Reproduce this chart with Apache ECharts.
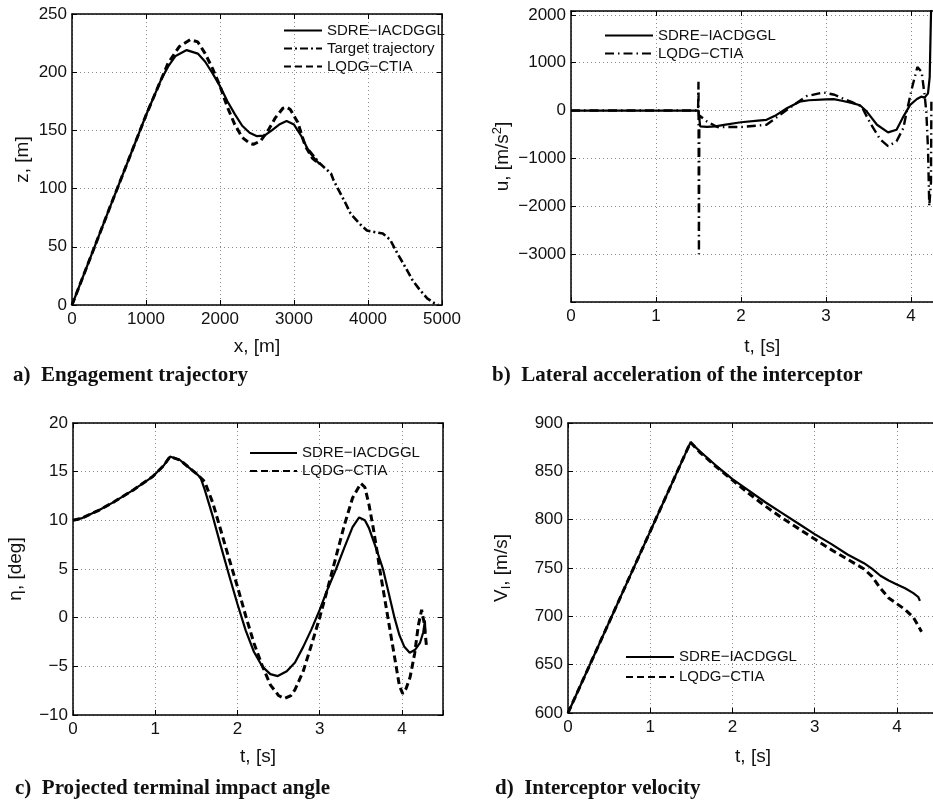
<!DOCTYPE html>
<html><head><meta charset="utf-8">
<script src="https://cdn.jsdelivr.net/npm/echarts@6/dist/echarts.min.js"></script>
<style>html,body{margin:0;padding:0;overflow:hidden;background:#fff}#c{width:960px;height:802px}</style>
</head><body><div id="c"></div>
<script>
// ---- a) Engagement trajectory ----
var aSdreX = [0,500,1000,1200,1300,1400,1550,1700,1800,1900,2000,2100,2200,2300,2400,2500,2600,2700,2800,2900,3000,3100,3200,3300,3350];
var aSdreZ = [0,82,163,193,205,214,219,216,209,199,188,175,164,154,148,145,145.5,150,155,158,155,145,132,124,121];
var aTgtX = [3200,3347,3500,3536,3700,3761,3800,3900,3986,4100,4200,4300,4400,4500,4600,4700,4800,4900,4950];
var aTgtZ = [133,121.7,113,107,87,79,76,69,64,62.5,61.5,56,44,33,21.5,13,5.7,1.4,0];
var aLqdgX = [0,500,1000,1300,1450,1600,1700,1800,1900,2000,2100,2200,2300,2400,2450,2550,2650,2750,2850,2900,2950,3050,3150,3250,3350];
var aLqdgZ = [0,82,163,208,222,228,226,216,203,188,170,155,144,139,138,141,150,161,169,170,168,157,137,126,121];
var aXTicks = [0,1000,2000,3000,4000,5000];
var aYTicks = [0,50,100,150,200,250];

// ---- b) Lateral acceleration ----
var bSdreT = [0,1.5,1.505,1.52,1.6,1.7,1.8,2.0,2.2,2.3,2.4,2.54,2.69,2.8,3.0,3.09,3.2,3.3,3.4,3.48,3.6,3.73,3.83,3.9,3.99,4.07,4.12,4.16,4.2,4.22,4.235,4.245];
var bSdreU = [0,0,-100,-330,-340,-330,-300,-245,-210,-193,-110,48,186,215,234,240,200,160,110,-21,-297,-455,-400,-159,118,242,290,270,360,700,2000,2600];
var bLqdgT = [0,1.495,1.5,1.505,1.51,1.6,1.72,2.0,2.3,2.46,2.62,2.77,2.97,3.1,3.2,3.3,3.42,3.52,3.64,3.73,3.83,3.91,3.95,4.01,4.075,4.125,4.16,4.18,4.2,4.215,4.225,4.235,4.24];
var bLqdgU = [0,0,600,-3000,-100,-228,-345,-345,-297,-90,118,300,379,330,250,180,83,-262,-607,-745,-642,-366,-20,462,911,807,325,-20,-800,-2000,-2000,-1500,250];

// ---- c) Projected terminal impact angle ----
var cSdreT = [0,0.1,0.32,0.5,0.73,0.97,1.1,1.18,1.3,1.4,1.5,1.55,1.6,1.7,1.8,1.9,2.0,2.1,2.2,2.3,2.4,2.49,2.6,2.7,2.8,2.9,3.0,3.1,3.2,3.3,3.4,3.48,3.55,3.6,3.65,3.7,3.77,3.84,3.91,3.97,4.03,4.095,4.16,4.22,4.26,4.28,4.285];
var cSdreE = [10,10.2,11.06,11.9,13.1,14.5,15.6,16.55,16.2,15.5,14.8,14.4,13.2,10.4,7.3,4.3,1.4,-1.3,-3.5,-5.0,-5.8,-6.0,-5.5,-4.6,-3.0,-1.2,0.8,3.0,5.0,7.2,9.3,10.3,10.0,9.2,8.0,6.8,5.0,2.5,0,-1.8,-3.0,-3.6,-3.3,-2.6,-1.5,-0.3,-1.5];
var cLqdgT = [0,0.1,0.32,0.5,0.73,0.97,1.1,1.18,1.3,1.4,1.5,1.55,1.6,1.7,1.8,1.9,2.0,2.1,2.2,2.3,2.4,2.5,2.57,2.65,2.7,2.8,2.9,3.0,3.1,3.2,3.3,3.4,3.5,3.55,3.6,3.65,3.7,3.73,3.83,3.93,3.97,4.01,4.05,4.1,4.155,4.2,4.24,4.27,4.3];
var cLqdgE = [10,10.2,11.06,11.9,13.1,14.5,15.6,16.55,16.2,15.5,14.8,14.4,14.0,11.8,8.9,6.0,3.2,0.2,-2.6,-4.9,-6.9,-8.0,-8.3,-8.0,-7.4,-5.5,-2.8,0,3.1,6.3,9.5,12.3,13.8,13.4,11.6,9.3,6.7,5.0,0,-5.0,-7.0,-7.8,-7.3,-6.1,-3.7,-0.8,0.8,-0.5,-3.0];

// ---- d) Interceptor velocity ----
var dSdreT = [0,1.49,1.6,1.8,2.0,2.2,2.4,2.6,2.8,3.0,3.2,3.4,3.6,3.7,3.8,3.9,4.0,4.1,4.2,4.26,4.28];
var dSdreV = [600,880,871,856,842,830,818,807,796,785,775,764,755,749,742,737,733,729,724,720,716];
var dLqdgT = [0,1.49,1.6,1.8,2.0,2.2,2.4,2.6,2.8,3.0,3.2,3.4,3.6,3.7,3.8,3.9,4.0,4.1,4.2,4.3];
var dLqdgV = [600,880,870,855,841,827,814,802,791,780,769,759,749,741,729,719,713,707,699,684];

var captions = ['a)  Engagement trajectory','b)  Lateral acceleration of the interceptor','c)  Projected terminal impact angle','d)  Interceptor velocity'];
var SDRE = 'SDRE\u2212IACDGGL', LQDG = 'LQDG\u2212CTIA', TGT = 'Target trajectory';

function pairs(xs, ys){ return xs.map(function(x,i){ return [x, ys[i]]; }); }
function fmt(v){ return (v<0?'\u2212':'') + Math.abs(v); }

var FONT = 'Liberation Sans, Arial, sans-serif';
var grids = [
  {left:72, top:14, width:370, height:291},
  {left:571, top:11, width:382.5, height:291},
  {left:73, top:423, width:370, height:292},
  {left:568, top:423, width:370, height:290}
];
var xCfg = [
  {min:0,max:5000,interval:1000,name:'x, [m]',gap:32},
  {min:0,max:4.5,interval:1,name:'t, [s]',gap:35},
  {min:0,max:4.5,interval:1,name:'t, [s]',gap:32},
  {min:0,max:4.5,interval:1,name:'t, [s]',gap:34}
];
var yCfg = [
  {min:0,max:250,interval:50,name:'z, [m]',gap:40, mult:50},
  {min:-4000,max:2080,interval:1000,name:'u, [m/s{sup|2}]',gap:57, mult:1000, hideMin:true},
  {min:-10,max:20,interval:5,name:'\u03b7, [deg]',gap:48, mult:5},
  {min:600,max:900,interval:50,name:'V{sub|I}, [m/s]',gap:55, mult:50}
];

var axisLine = {show:true, onZero:false, lineStyle:{color:'#000', width:1.5}};
var tick = {show:true, inside:true, length:5, lineStyle:{color:'#000', width:1}};
var split = {show:true, lineStyle:{color:'#8a8a8a', width:1, type:[1,3]}};

var xAxes = [], yAxes = [];
grids.forEach(function(g, i){
  var xc = xCfg[i], yc = yCfg[i];
  xAxes.push({type:'value', gridIndex:i, position:'bottom', min:xc.min, max:xc.max, interval:xc.interval,
    name:xc.name, nameLocation:'middle', nameGap:xc.gap,
    nameTextStyle:{fontFamily:FONT, fontSize:19, color:'#111'},
    axisLine:axisLine, axisTick:tick, splitLine:split,
    axisLabel:{fontFamily:FONT, fontSize:17, color:'#111', margin:6,
      formatter:function(v){ return (Math.abs(v/xc.interval - Math.round(v/xc.interval))<1e-9) ? fmt(v) : ''; }}});
  xAxes.push({type:'value', gridIndex:i, position:'top', min:xc.min, max:xc.max, interval:xc.interval,
    axisLine:axisLine, axisTick:tick, splitLine:{show:false}, axisLabel:{show:false}});
  yAxes.push({type:'value', gridIndex:i, position:'left', min:yc.min, max:yc.max, interval:yc.interval,
    name:yc.name, nameLocation:'middle', nameGap:yc.gap,
    nameTextStyle:{fontFamily:FONT, fontSize:19, color:'#111',
      rich:{sup:{fontFamily:FONT, fontSize:13, color:'#111', padding:[0,0,10,0]},
            sub:{fontFamily:FONT, fontSize:13, color:'#111', padding:[10,0,0,0]}}},
    axisLine:axisLine, axisTick:tick, splitLine:split,
    axisLabel:{fontFamily:FONT, fontSize:17, color:'#111', margin:5,
      formatter:function(v){
        if (yc.hideMin && v === yc.min) return '';
        return (Math.abs(v/yc.mult - Math.round(v/yc.mult))<1e-9) ? fmt(v) : ''; }}});
  yAxes.push({type:'value', gridIndex:i, position:'right', min:yc.min, max:yc.max, interval:yc.interval,
    axisLine:axisLine, axisTick:tick, splitLine:{show:false}, axisLabel:{show:false}});
});

function line(name, gi, data, style){
  return {type:'line', name:name, xAxisIndex:gi*2, yAxisIndex:gi*2, data:data,
    symbol:'none', showSymbol:false, clip:true, animation:false, smooth:false,
    lineStyle:Object.assign({color:'#000'}, style), itemStyle:{color:'#000'}};
}
var solid = {width:2.2, type:'solid'};
var dashed = {width:3, type:[7,4]};
var dashdot = {width:2.6, type:[8,3,2,3]};
var dashdotB = {width:2.4, type:[9,4,1.5,4]};

var series = [
  line(SDRE+'|a', 0, pairs(aSdreX, aSdreZ), solid),
  line(TGT+'|a', 0, pairs(aTgtX, aTgtZ), dashdot),
  line(LQDG+'|a', 0, pairs(aLqdgX, aLqdgZ), dashed),
  line(SDRE+'|b', 1, pairs(bSdreT, bSdreU), solid),
  line(LQDG+'|b', 1, pairs(bLqdgT, bLqdgU), dashdotB),
  line(SDRE+'|c', 2, pairs(cSdreT, cSdreE), solid),
  line(LQDG+'|c', 2, pairs(cLqdgT, cLqdgE), dashed),
  line(SDRE+'|d', 3, pairs(dSdreT, dSdreV), solid),
  line(LQDG+'|d', 3, pairs(dLqdgT, dLqdgV), dashed)
];

function leg(names, left, top, w, gap){
  return {data:names, orient:'vertical', left:left, top:top, itemWidth:w, itemHeight:14, itemGap:gap,
    padding:0, selectedMode:false,
    itemStyle:{color:'rgba(0,0,0,0)', borderWidth:0, opacity:0},
    textStyle:{fontFamily:FONT, fontSize:15, color:'#111'},
    formatter:function(n){ return n.split('|')[0]; }};
}
var legends = [
  leg([SDRE+'|a', TGT+'|a', LQDG+'|a'], 283, 23, 38, 3),
  leg([SDRE+'|b', LQDG+'|b'], 604, 28, 48, 3),
  leg([SDRE+'|c', LQDG+'|c'], 249, 445.5, 47, 3),
  leg([SDRE+'|d', LQDG+'|d'], 625, 649.5, 48, 5)
];

var capPos = [[13,365],[492,365],[15,778],[495,778]];
var titles = captions.map(function(t, i){
  return {text:t, left:capPos[i][0], top:capPos[i][1], padding:0,
    textStyle:{fontFamily:'Liberation Serif, Times New Roman, serif', fontWeight:'bold', fontSize:21, color:'#111'}};
});

var chart = echarts.init(document.getElementById('c'), null, {renderer:'canvas'});
chart.setOption({
  animation:false,
  backgroundColor:'#fff',
  title:titles,
  legend:legends,
  grid:grids.map(function(g){ return Object.assign({containLabel:false, show:false}, g); }),
  xAxis:xAxes,
  yAxis:yAxes,
  series:series
});
</script></body></html>
